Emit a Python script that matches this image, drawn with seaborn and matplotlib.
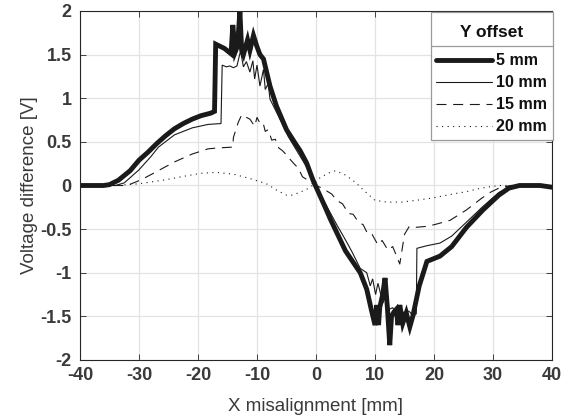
import numpy as np
import pandas as pd
import matplotlib
matplotlib.use("Agg")
import matplotlib.pyplot as plt
from matplotlib.lines import Line2D
from matplotlib.transforms import IdentityTransform
import seaborn as sns

sns.set_theme(style="whitegrid")
plt.rcParams['font.family'] = ['Liberation Sans', 'DejaVu Sans']

# ---------------- data ----------------
x_5mm = [-40, -36, -35, -33.5, -31.5, -30, -28.5, -27, -25.5, -24, -22.5, -21, -19.5, -17.8,
         -17.2, -17.0, -15.5, -14.4, -14.1, -13.7, -13.3, -12.9, -12.6, -12.3, -11.6, -11.2,
         -10.6, -10.05, -9.5, -8.9, -7.8, -6.7, -5.0, -3.3, -2.7, -1.6, -0.5, 0.5, 1.5, 2.4,
         3.8, 5.0, 6.2, 7.5, 8.6, 9.4, 10.0, 10.3, 10.6, 10.8, 11.3, 11.7, 12.1, 12.5, 12.8,
         13.2, 13.6, 13.9, 14.2, 14.7, 15.3, 15.9, 16.4, 17.5, 18.8, 21, 23, 25.5, 28.3, 31,
         32.7, 34.5, 36, 38, 40]
y_5mm = [0, 0, 0.01, 0.06, 0.17, 0.29, 0.38, 0.48, 0.57, 0.65, 0.71, 0.76, 0.80, 0.83,
         0.85, 1.62, 1.57, 1.51, 1.84, 1.53, 1.60, 2.0, 1.55, 1.50, 1.67, 1.55,
         1.72, 1.60, 1.50, 1.45, 1.14, 0.91, 0.64, 0.46, 0.40, 0.26, 0.06, -0.09, -0.24, -0.38,
         -0.58, -0.75, -0.87, -1.0, -1.19, -1.43, -1.60, -1.37, -1.60, -1.40, -1.25, -1.06, -1.40, -1.83, -1.50,
         -1.45, -1.42, -1.60, -1.37, -1.58, -1.46, -1.62, -1.50, -1.15, -0.87, -0.81, -0.70, -0.48, -0.28, -0.11,
         -0.03, 0, 0, 0, -0.02]

x_10mm = [-40, -34, -32.5, -30, -28, -26.7, -24, -21, -18.3, -16.1, -15.9, -15.2, -14.6, -14.0,
          -13.4, -12.8, -12.3, -11.8, -11.2, -10.7, -10.4, -10.0, -9.5, -8.9, -8.6, -8.1, -7.8,
          -6.4, -4.7, -3.0, -1.3, 0, 1.2, 2.4, 3.6, 4.8, 6.1, 7.5, 8.6, 9.2, 9.6, 10.1, 10.5,
          10.8, 11.3, 11.8, 12.4, 13.0, 13.6, 14.2, 14.8, 15.4, 15.9, 16.5, 17.0, 17.1, 18.8,
          21, 23, 25.5, 28.3, 31, 33, 34.5, 40]
y_10mm = [0, 0, 0.03, 0.18, 0.33, 0.44, 0.58, 0.66, 0.70, 0.71, 1.38, 1.36, 1.37, 1.35,
          1.37, 1.54, 1.36, 1.42, 1.30, 1.43, 1.22, 1.38, 1.14, 1.33, 1.10, 1.17, 0.99,
          0.80, 0.56, 0.37, 0.18, 0.0, -0.16, -0.31, -0.46, -0.60, -0.76, -0.95, -1.0, -1.15, -1.07, -1.25, -1.12,
          -1.2, -1.35, -1.28, -1.42, -1.40, -1.47, -1.38, -1.46, -1.43, -1.45, -1.50, -1.47, -0.72, -0.69,
          -0.66, -0.58, -0.42, -0.24, -0.08, -0.01, 0, 0]

x_15mm = [-40, -33, -32, -29.5, -27, -24, -21, -18.3, -16.7, -14.1, -14.0, -13.2, -12.6, -11.2,
          -10.4, -10.0, -9.3, -8.9, -8.6, -8.1, -7.5, -6.9, -6.3, -5.7, -5.0, -4.4, -3.6, -3.0,
          -2.3, -1.6, -0.8, 0, 1.0, 2.0, 2.7, 3.5, 4.5, 5.5, 6.3, 7.2, 8.0, 8.8, 9.5, 10.5,
          11.2, 12.2, 13.0, 13.6, 14.2, 15.0, 15.8, 16.8, 18.5, 20, 22.7, 25.5, 28, 29.5, 31,
          33, 40]
y_15mm = [0, 0, 0.0, 0.07, 0.16, 0.27, 0.36, 0.42, 0.43, 0.44, 0.55, 0.72, 0.81, 0.76,
          0.68, 0.78, 0.69, 0.70, 0.62, 0.64, 0.52, 0.53, 0.43, 0.40, 0.35, 0.30, 0.24, 0.20,
          0.10, 0.07, 0.03, 0.0, -0.03, -0.07, -0.10, -0.17, -0.21, -0.32, -0.33, -0.42, -0.45, -0.56, -0.56, -0.68,
          -0.63, -0.74, -0.70, -0.80, -0.90, -0.56, -0.47, -0.48, -0.47, -0.45, -0.40, -0.28, -0.15, -0.08, -0.03,
          0, 0]

x_20mm = [-40, -34, -30, -26, -22, -19.5, -17, -14, -11.2, -8.4, -6.5, -5, -4, -2.8, -1.5,
          -0.6, 0.5, 2, 3.3, 5, 6.8, 8, 10, 12, 14.5, 17, 20, 23, 25.5, 28, 31, 34, 40]
y_20mm = [0, 0, 0.02, 0.06, 0.11, 0.14, 0.15, 0.13, 0.08, 0.02, -0.06, -0.11, -0.11, -0.08, -0.04,
          0.0, 0.08, 0.14, 0.17, 0.12, 0.03, -0.05, -0.17, -0.19, -0.19, -0.17, -0.14, -0.10, -0.07, -0.03,
          0.0, 0, 0]

series_labels = ["5 mm", "10 mm", "15 mm", "20 mm"]
legend_title = "Y offset"
x_label = "X misalignment [mm]"
y_label = "Voltage difference [V]"
x_ticks = [-40, -30, -20, -10, 0, 10, 20, 30, 40]
x_tick_labels = ["-40", "-30", "-20", "-10", "0", "10", "20", "30", "40"]
y_ticks = [-2, -1.5, -1, -0.5, 0, 0.5, 1, 1.5, 2]
y_tick_labels = ["-2", "-1.5", "-1", "-0.5", "0", "0.5", "1", "1.5", "2"]

series = [(x_5mm, y_5mm), (x_10mm, y_10mm), (x_15mm, y_15mm), (x_20mm, y_20mm)]
for xs, ys in series:
    assert len(xs) == len(ys), (len(xs), len(ys))

# ---------------- figure ----------------
W, H = 570, 419
fig = plt.figure(figsize=(W / 100, H / 100), dpi=100)
ax = fig.add_axes([80 / W, 1 - 360 / H, (552 - 80) / W, (360 - 11) / H])
ax.set_facecolor("white")

styles = [
    dict(color="#1a1a1a", linewidth=3.5, linestyle="-"),
    dict(color="#1a1a1a", linewidth=0.8, linestyle="-"),
    dict(color="#1a1a1a", linewidth=0.8, linestyle=(0, (9, 6))),
    dict(color="#1a1a1a", linewidth=0.8, linestyle=(0, (1, 4))),
]

for (xs, ys), lab, st in zip(series, series_labels, styles):
    df = pd.DataFrame({"x": xs, "y": ys})
    sns.lineplot(data=df, x="x", y="y", ax=ax, sort=False, estimator=None,
                 label=lab, solid_joinstyle="miter", **st)

ax.set_xlim(-40, 40)
ax.set_ylim(-2, 2)
ax.set_xticks(x_ticks)
ax.set_xticklabels(x_tick_labels)
ax.set_yticks(y_ticks)
ax.set_yticklabels(y_tick_labels)

text_color = "#3a3a3a"
for lbl in ax.get_xticklabels() + ax.get_yticklabels():
    lbl.set_fontsize(13)
    lbl.set_fontweight("bold")
    lbl.set_color(text_color)
ax.tick_params(axis="both", which="major", direction="in", length=4, width=0.6,
               color="#262626", top=True, right=True, bottom=True, left=True)
ax.tick_params(axis="x", pad=5)
ax.tick_params(axis="y", pad=6)

ax.grid(True, color="#e3e3e3", linewidth=0.9)
for sp in ax.spines.values():
    sp.set_visible(True)
    sp.set_color("#262626")
    sp.set_linewidth(0.8)

ax.set_xlabel(x_label, fontsize=13.5, color=text_color, labelpad=10)
ax.set_ylabel(y_label, fontsize=13.5, color=text_color, labelpad=2)

leg = ax.legend(loc="upper right", bbox_to_anchor=(1.002, 0.996), borderaxespad=0,
                title="\n" + legend_title + "\n", fancybox=False, framealpha=1,
                edgecolor="#9a9a9a", facecolor="white",
                prop=dict(size=11.5, weight="bold"),
                title_fontproperties=dict(size=12.5, weight="bold"),
                handlelength=3.45, handletextpad=0.3, labelspacing=0.44,
                borderpad=0.35)
leg.get_title().set_linespacing(0.3)
leg.get_frame().set_linewidth(0.9)
for t in leg.get_texts():
    t.set_color("#111111")
leg.get_title().set_color("#111111")

fig.canvas.draw()
fb = leg.get_window_extent()
t0 = leg.get_texts()[0].get_window_extent()
ysep = t0.y1 + 7
fig.add_artist(Line2D([fb.x0, fb.x1], [ysep, ysep], transform=IdentityTransform(),
                      color="#9a9a9a", linewidth=0.9, zorder=10))

fig.savefig("out.png", dpi=100)
